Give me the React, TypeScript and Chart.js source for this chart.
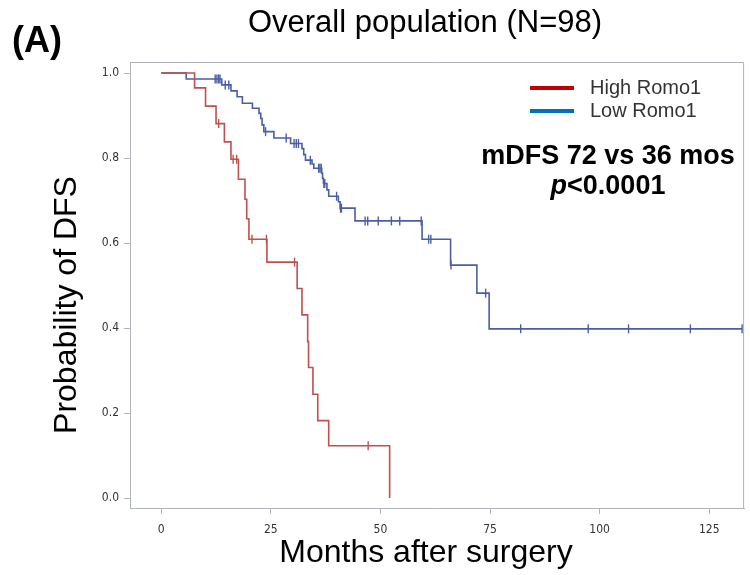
import React, { useEffect, useRef } from "react";
import { Chart, registerables } from "chart.js";

Chart.register(...registerables);

const X_TICKS = [0, 25, 50, 75, 100, 125];
const Y_TICKS = [0, 0.2, 0.4, 0.6, 0.8, 1.0];

const HIGH_MONTHS = [0, 7.6, 10.1, 12.5, 14.4, 15.9, 17.6, 19.1, 19.5, 20.0, 24.1, 31.0, 32.1, 33.4, 33.6, 34.6, 35.7, 38.2, 52.1];
const HIGH_SURV = [1, 0.965, 0.922, 0.881, 0.838, 0.797, 0.75, 0.703, 0.657, 0.609, 0.555, 0.493, 0.431, 0.368, 0.307, 0.244, 0.182, 0.123, 0];
const HIGH_CENSOR_MONTHS = [13.1, 16.4, 17.2, 20.7, 24.0, 30.4, 47.2];
const HIGH_CENSOR_SURV = [0.881, 0.797, 0.797, 0.609, 0.609, 0.555, 0.123];

const LOW_MONTHS = [0, 5.7, 13.8, 15.9, 17.3, 18.5, 20.8, 22.3, 22.7, 23.0, 23.4, 25.7, 29.5, 32.1, 32.5, 32.9, 34.4, 34.8, 36.6, 36.8, 37.0, 37.8, 38.2, 40.4, 40.8, 44.2, 59.5, 66.0, 72.0, 74.8, 132.5];
const LOW_SURV = [1, 0.986, 0.972, 0.958, 0.944, 0.929, 0.917, 0.905, 0.893, 0.878, 0.862, 0.847, 0.834, 0.822, 0.808, 0.795, 0.786, 0.776, 0.764, 0.752, 0.74, 0.725, 0.71, 0.697, 0.682, 0.652, 0.609, 0.548, 0.482, 0.398, 0.398];
const LOW_CENSOR_MONTHS = [12.3, 12.7, 13.1, 13.4, 14.6, 15.4, 23.8, 28.5, 30.3, 30.8, 31.3, 34.0, 35.9, 36.2, 36.5, 37.1, 37.3, 40.0, 40.9, 41.1, 46.5, 47.1, 49.5, 52.5, 54.4, 59.3, 61.0, 61.5, 66.1, 74.0, 82.0, 97.4, 106.6, 120.7, 132.5];
const LOW_CENSOR_SURV = [0.986, 0.986, 0.986, 0.986, 0.972, 0.972, 0.862, 0.847, 0.834, 0.834, 0.834, 0.795, 0.776, 0.776, 0.776, 0.74, 0.74, 0.71, 0.682, 0.682, 0.652, 0.652, 0.652, 0.652, 0.652, 0.652, 0.609, 0.609, 0.548, 0.482, 0.398, 0.398, 0.398, 0.398, 0.398];

const TITLE = "Overall population (N=98)";
const PANEL = "(A)";
const X_TITLE = "Months after surgery";
const Y_TITLE = "Probability of DFS";
const LEGEND_LABELS = ["High Romo1", "Low Romo1"];
const LEGEND_COLORS = ["#c00000", "#0070c0"];
const NOTE_1 = "mDFS 72 vs 36 mos";
const NOTE_P = "p";
const NOTE_2 = "<0.0001";

const RED = "#c0504d";
const BLUE = "#4a5ea6";
const AXIS = "#b0b3b8";
const FONT = '"Liberation Sans", Arial, sans-serif';
const NARROW = '"Liberation Sans Narrow", "DejaVu Sans Condensed", "Liberation Sans", sans-serif';

const pts = (xs: number[], ys: number[]) => xs.map((x, i) => ({ x, y: ys[i] }));

const decor = {
  id: "decor",
  afterDraw(chart: any) {
    const { ctx, chartArea } = chart;
    const { left, right, top, bottom } = chartArea;
    ctx.save();
    ctx.strokeStyle = AXIS;
    ctx.lineWidth = 1;
    ctx.beginPath();
    ctx.moveTo(left, top + 0.5);
    ctx.lineTo(right - 0.5, top + 0.5);
    ctx.lineTo(right - 0.5, bottom);
    ctx.stroke();

    ctx.fillStyle = "#000";
    ctx.textBaseline = "middle";
    ctx.textAlign = "center";
    ctx.font = `31px ${FONT}`;
    ctx.fillText(TITLE, 425, 23);

    ctx.textAlign = "left";
    ctx.font = `bold 36px ${FONT}`;
    ctx.fillText(PANEL, 12, 42);

    ctx.textAlign = "center";
    ctx.font = `32px ${FONT}`;
    ctx.fillText(X_TITLE, 426, 553);

    ctx.save();
    ctx.translate(67, 305);
    ctx.rotate(-Math.PI / 2);
    ctx.font = `32px ${FONT}`;
    ctx.fillText(Y_TITLE, 0, 0);
    ctx.restore();

    // legend
    LEGEND_LABELS.forEach((lab, i) => {
      const y = 88 + i * 23;
      ctx.strokeStyle = LEGEND_COLORS[i];
      ctx.lineWidth = 4;
      ctx.beginPath();
      ctx.moveTo(530, y);
      ctx.lineTo(574, y);
      ctx.stroke();
      ctx.fillStyle = "#333";
      ctx.textAlign = "left";
      ctx.font = `20px ${FONT}`;
      ctx.fillText(lab, 590, y);
    });

    // annotation
    ctx.fillStyle = "#000";
    ctx.textAlign = "center";
    ctx.font = `bold 27px ${FONT}`;
    ctx.fillText(NOTE_1, 608, 157);
    ctx.textAlign = "left";
    ctx.font = `italic bold 27px ${FONT}`;
    const wp = ctx.measureText(NOTE_P).width;
    ctx.font = `bold 27px ${FONT}`;
    const w2 = ctx.measureText(NOTE_2).width;
    const sx = 608 - (wp + w2) / 2;
    ctx.font = `italic bold 27px ${FONT}`;
    ctx.fillText(NOTE_P, sx, 187);
    ctx.font = `bold 27px ${FONT}`;
    ctx.fillText(NOTE_2, sx + wp, 187);
    ctx.restore();
  },
};

export default function App() {
  const ref = useRef<HTMLCanvasElement | null>(null);
  useEffect(() => {
    if (!ref.current) return;
    const tickFont = { family: NARROW, size: 12 };
    const chart = new Chart(ref.current, {
      type: "scatter",
      data: {
        datasets: [
          {
            type: "line",
            label: LEGEND_LABELS[0],
            data: pts(HIGH_MONTHS, HIGH_SURV),
            borderColor: RED,
            borderWidth: 1.6,
            stepped: true,
            pointRadius: 0,
            fill: false,
          } as any,
          {
            type: "line",
            label: LEGEND_LABELS[1],
            data: pts(LOW_MONTHS, LOW_SURV),
            borderColor: BLUE,
            borderWidth: 1.6,
            stepped: true,
            pointRadius: 0,
            fill: false,
          } as any,
          {
            type: "scatter",
            label: "High censored",
            data: pts(HIGH_CENSOR_MONTHS, HIGH_CENSOR_SURV),
            borderColor: RED,
            backgroundColor: RED,
            pointStyle: "line",
            rotation: 90,
            pointRadius: 4.5,
            borderWidth: 1.4,
          } as any,
          {
            type: "scatter",
            label: "Low censored",
            data: pts(LOW_CENSOR_MONTHS, LOW_CENSOR_SURV),
            borderColor: BLUE,
            backgroundColor: BLUE,
            pointStyle: "line",
            rotation: 90,
            pointRadius: 4.5,
            borderWidth: 1.4,
          } as any,
        ],
      },
      options: {
        responsive: false,
        animation: false,
        layout: { padding: { top: 62, left: 0, right: 2, bottom: 0 } },
        plugins: {
          legend: { display: false },
          title: { display: false },
          tooltip: { enabled: false },
        },
        scales: {
          x: {
            type: "linear",
            min: -7.13,
            max: 132.96,
            afterFit: (s: any) => {
              s.height = 67;
            },
            afterBuildTicks: (s: any) => {
              s.ticks = X_TICKS.map((v) => ({ value: v }));
            },
            border: { display: true, color: AXIS, width: 1 },
            grid: { display: true, drawOnChartArea: false, drawTicks: true, tickLength: 6, color: AXIS },
            ticks: { font: tickFont, color: "#333", padding: 9, maxRotation: 0 },
          },
          y: {
            type: "linear",
            min: -0.0235,
            max: 1.0259,
            afterFit: (s: any) => {
              s.width = 130;
            },
            afterBuildTicks: (s: any) => {
              s.ticks = Y_TICKS.map((v) => ({ value: v }));
            },
            border: { display: true, color: AXIS, width: 1 },
            grid: { display: true, drawOnChartArea: false, drawTicks: true, tickLength: 6, color: AXIS },
            ticks: {
              font: tickFont,
              color: "#333",
              padding: 5,
              callback: (v: any) => Number(v).toFixed(1),
            },
          },
        },
      },
      plugins: [decor],
    } as any);
    return () => chart.destroy();
  }, []);
  return (
    <div style={{ position: "fixed", left: 0, top: 0, width: 750, height: 575, background: "#fff" }}>
      <canvas ref={ref} width={750} height={575} style={{ width: 750, height: 575, display: "block" }} />
    </div>
  );
}
